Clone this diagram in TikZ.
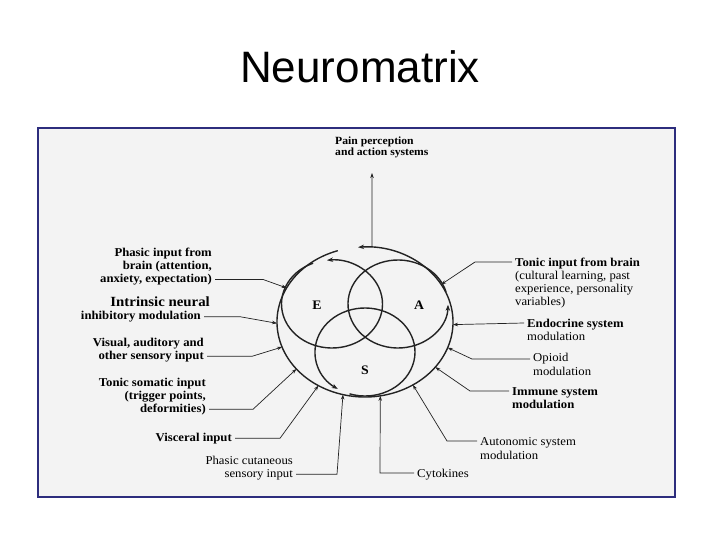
\documentclass[tikz,border=0pt]{standalone}
\usepackage{fontspec}
\setmainfont{Liberation Serif}
\newfontfamily\titlefont{Liberation Sans}
\newfontfamily\labelfont{Liberation Serif}[FakeStretch=1.06]
\usetikzlibrary{arrows.meta}
\definecolor{framenavy}{RGB}{45,45,125}
\definecolor{scangray}{RGB}{243,243,243}
\definecolor{inkgray}{RGB}{35,35,35}

\begin{document}
\begin{tikzpicture}[x=1pt, y=1pt, every node/.style={inner sep=0pt}]
  \tikzset{
    ring/.style={draw=inkgray, line width=1.4pt, -{Stealth[length=6pt,width=4.5pt]}},
    lead/.style={draw=inkgray, line width=0.7pt, -{Stealth[length=5pt,width=3.5pt]}},
    lbl/.style={font=\labelfont\bfseries\fontsize{12}{13}\selectfont},
    lblleft/.style={lbl, align=right, anchor=north east},
    lblright/.style={lbl, align=left, anchor=north west},
    letter/.style={font=\labelfont\bfseries\fontsize{13}{13}\selectfont}
  }
  \useasboundingbox (0,0) rectangle (720,-540);
  \fill[white] (0,0) rectangle (720,-540);

  \node[font=\titlefont\fontsize{44}{44}\selectfont, anchor=base] (title) at (360,-83) {Neuromatrix};

  \draw[framenavy, line width=2pt, fill=scangray] (38,-128) rectangle (675,-497);

  % the body-self ring and the three circles
  \coordinate (O)  at (365,-322);
  \coordinate (cE) at (332,-304);
  \coordinate (cA) at (398,-304);
  \coordinate (cS) at (365,-352);

  \draw[ring] (O) ++(108:88pt and 75pt) arc[start angle=108, end angle=454.5, x radius=88pt, y radius=75pt];
  \draw[ring] (cE) ++(112:50.5pt and 44pt) arc[start angle=112, end angle=455.7, x radius=50.5pt, y radius=44pt];
  \draw[ring] (cA) ++(16:50pt and 44pt) arc[start angle=16, end angle=359, x radius=50pt, y radius=44pt];
  \draw[ring] (cS) ++(252:50pt and 44pt) arc[start angle=252, end angle=597, x radius=50pt, y radius=44pt];

  \node[letter] (labE) at (317,-305) {E};
  \node[letter] (labA) at (419,-305) {A};
  \node[letter] (labS) at (365,-370) {S};

  % where the inputs meet the ring
  \path (O) ++(85.4:88pt and 75pt) coordinate (tPain);
  \path (O) ++(153:88pt and 75pt)  coordinate (tPhasic);
  \path (O) ++(181:88pt and 75pt)  coordinate (tIntrinsic);
  \path (O) ++(199.5:88pt and 75pt) coordinate (tVisual);
  \path (O) ++(218.8:88pt and 75pt) coordinate (tSomatic);
  \path (O) ++(238:88pt and 75pt)  coordinate (tVisceral);
  \path (O) ++(255.5:88pt and 75pt) coordinate (tCutaneous);
  \path (O) ++(280:88pt and 75pt)  coordinate (tCytokines);
  \path (O) ++(303:88pt and 75pt)  coordinate (tAutonomic);
  \path (O) ++(323:88pt and 75pt)  coordinate (tImmune);
  \path (O) ++(340:88pt and 75pt)  coordinate (tOpioid);
  \path (O) ++(358:88pt and 75pt)  coordinate (tEndocrine);
  \path (O) ++(30:88pt and 75pt)   coordinate (tTonic);

  % output at the top
  \node[lbl, font=\labelfont\bfseries\fontsize{11}{11}\selectfont, align=left, anchor=north west] (pain) at (335,-137) {Pain perception\\and action systems};
  \coordinate (painTip) at (372,-173);
  \draw[lead] (tPain) -- (painTip);

  % inputs on the left
  \node[lblleft] (phasicBrain) at (212,-248) {Phasic input from\\brain (attention,\\anxiety, expectation)};
  \node[lblleft] (intrinsic) at (210,-297) {{\fontsize{14}{14}\selectfont Intrinsic neural}\\inhibitory modulation\hspace*{9pt}};
  \node[lblleft] (visual) at (204,-338) {Visual, auditory and\\other sensory input};
  \node[lblleft] (somatic) at (206,-378) {Tonic somatic input\\(trigger points,\\deformities)};
  \node[lblleft] (visceral) at (232,-433) {Visceral input};
  \node[lblleft, font=\labelfont\fontsize{12}{13}\selectfont] (cutaneous) at (293,-456) {Phasic cutaneous\\sensory input};

  \draw[lead] ([shift={(3,6)}]phasicBrain.south east) -- ++(48,0) -- (tPhasic);
  \draw[lead] ([shift={(-6,6)}]intrinsic.south east) -- ++(36,0) -- (tIntrinsic);
  \draw[lead] ([shift={(3,6)}]visual.south east) -- ++(45,0) -- (tVisual);
  \draw[lead] ([shift={(3,6)}]somatic.south east) -- ++(44,0) -- (tSomatic);
  \draw[lead] ([shift={(3,6)}]visceral.south east) -- ++(45,0) -- (tVisceral);
  \draw[lead] ([shift={(3,6)}]cutaneous.south east) -- ++(41,0) -- (tCutaneous);

  % inputs on the right
  \node[lblright] (tonicBrain) at (515,-258) {Tonic input from brain\\{\mdseries (cultural learning, past}\\{\mdseries experience, personality}\\{\mdseries variables)}};
  \node[lblright] (endocrine) at (527,-319) {Endocrine system\\{\mdseries modulation}};
  \node[lblright, font=\labelfont\fontsize{12}{14}\selectfont] (opioid) at (533,-353) {Opioid\\modulation};
  \node[lblright] (immune) at (512,-387) {Immune system\\modulation};
  \node[lblright, font=\labelfont\fontsize{12}{14}\selectfont] (autonomic) at (480,-437) {Autonomic system\\modulation};
  \node[lblright, font=\labelfont\fontsize{12}{13}\selectfont] (cytokines) at (417,-469) {Cytokines};

  \draw[lead] ([shift={(-3,-4)}]tonicBrain.north west) -- ++(-37,0) -- (tTonic);
  \draw[lead] ([shift={(-3,-4)}]endocrine.north west) -- (tEndocrine);
  \draw[lead] ([shift={(-3,-6)}]opioid.north west) -- ++(-58,0) -- (tOpioid);
  \draw[lead] ([shift={(-3,-4)}]immune.north west) -- ++(-39,0) -- (tImmune);
  \draw[lead] ([shift={(-3,-4)}]autonomic.north west) -- ++(-30,0) -- (tAutonomic);
  \draw[lead] ([shift={(-3,-4)}]cytokines.north west) -- ++(-34,0) -- (tCytokines);
\end{tikzpicture}
\end{document}
